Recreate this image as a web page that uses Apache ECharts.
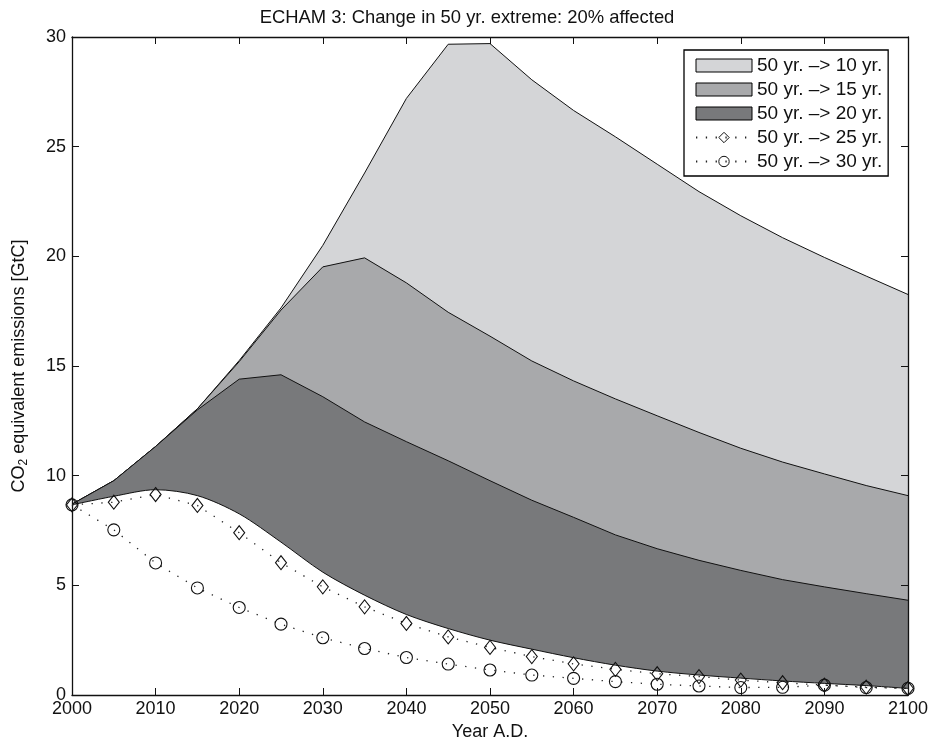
<!DOCTYPE html>
<html>
<head>
<meta charset="utf-8">
<script src="https://cdn.jsdelivr.net/npm/echarts@6/dist/echarts.min.js"></script>
<style>html,body{margin:0;padding:0;background:#fff;}#c{width:934px;height:746px;}</style>
</head>
<body>
<div id="c"></div>
<script>
var years = [2000,2005,2010,2015,2020,2025,2030,2035,2040,2045,2050,2055,2060,2065,2070,2075,2080,2085,2090,2095,2100];
var yr10 = [8.7,9.77,11.33,13.05,15.25,17.65,20.5,23.8,27.2,29.67,29.7,28.05,26.65,25.45,24.2,22.95,21.85,20.85,19.95,19.1,18.26];
var yr15 = [8.7,9.77,11.33,13.05,15.2,17.55,19.52,19.93,18.79,17.45,16.36,15.23,14.32,13.5,12.73,11.97,11.25,10.62,10.08,9.55,9.09];
var yr20 = [8.7,9.77,11.33,13.0,14.4,14.6,13.6,12.45,11.55,10.68,9.77,8.88,8.1,7.3,6.67,6.14,5.68,5.26,4.93,4.62,4.32];
var lowerBound = [8.67,9.06,9.36,9.09,8.26,6.97,5.6,4.55,3.67,3.03,2.5,2.09,1.7,1.36,1.09,0.91,0.77,0.64,0.53,0.43,0.3];
var yr25 = [8.67,8.79,9.14,8.64,7.4,6.03,4.93,4.02,3.26,2.65,2.17,1.75,1.42,1.17,0.97,0.84,0.68,0.56,0.45,0.36,0.3];
var yr30 = [8.67,7.53,6.02,4.88,3.99,3.23,2.61,2.12,1.71,1.41,1.14,0.91,0.76,0.61,0.49,0.41,0.34,0.35,0.45,0.34,0.3];
var names = ['50 yr. \u2013> 10 yr.','50 yr. \u2013> 15 yr.','50 yr. \u2013> 20 yr.','50 yr. \u2013> 25 yr.','50 yr. \u2013> 30 yr.'];
var fills = ['#d4d5d7','#a8a9ab','#78797b'];

function pairs(arr){ return years.map(function(y,i){ return [y, arr[i]]; }); }
var FONT = 'Liberation Sans, Arial, Helvetica, sans-serif';

function areaSeries(name, arr, fill, z){
  return {
    name: name, type: 'line', data: pairs(arr), showSymbol: false, symbol: 'none',
    color: fill,
    lineStyle: {color: '#111', width: 1},
    itemStyle: {color: fill, borderColor: '#000', borderWidth: 1},
    areaStyle: {color: fill, opacity: 1, origin: 'start'},
    z: z, animation: false, silent: true
  };
}

var chart = echarts.init(document.getElementById('c'), null, {renderer: 'canvas'});
var option = {
  backgroundColor: '#fff',
  animation: false,
  title: {
    text: 'ECHAM 3: Change in 50 yr. extreme: 20% affected',
    left: 'center', top: 4,
    textStyle: {fontFamily: FONT, fontSize: 18.4, fontWeight: 'normal', color: '#111'}
  },
  grid: {left: 70, right: 26, top: 37, bottom: 49},
  legend: {
    orient: 'vertical', left: 684, top: 50,
    padding: [6, 6, 5, 11],
    itemWidth: 56, itemHeight: 13, itemGap: 5,
    backgroundColor: '#fff', borderColor: '#000', borderWidth: 1.3,
    textStyle: {fontFamily: FONT, fontSize: 19, color: '#111', lineHeight: 18, padding: [0,0,0,0]},
    data: [
      {name: names[0], icon: 'rect', itemStyle: {color: fills[0], borderColor: '#000', borderWidth: 1}},
      {name: names[1], icon: 'rect', itemStyle: {color: fills[1], borderColor: '#000', borderWidth: 1}},
      {name: names[2], icon: 'rect', itemStyle: {color: fills[2], borderColor: '#000', borderWidth: 1}},
      {name: names[3], itemStyle: {borderWidth: 1}},
      {name: names[4], itemStyle: {borderWidth: 1}}
    ]
  },
  xAxis: [{
    type: 'value', min: 2000, max: 2100, interval: 10, z: 5,
    name: 'Year A.D.', nameLocation: 'middle', nameGap: 28,
    nameTextStyle: {fontFamily: FONT, fontSize: 18, color: '#111'},
    axisLine: {show: true, onZero: false, lineStyle: {color: '#111', width: 1.3}},
    axisTick: {show: true, inside: true, length: 7, lineStyle: {color: '#111', width: 1}},
    axisLabel: {fontFamily: FONT, fontSize: 18, color: '#111', margin: 5, formatter: function(v){ return String(v); }},
    splitLine: {show: false}
  },{
    type: 'value', position: 'top', min: 2000, max: 2100, interval: 10, z: 5,
    axisLine: {show: true, onZero: false, lineStyle: {color: '#111', width: 1.3}},
    axisTick: {show: true, inside: true, length: 7, lineStyle: {color: '#111', width: 1}},
    axisLabel: {show: false}, splitLine: {show: false}
  }],
  yAxis: [{
    type: 'value', min: 0, max: 30, interval: 5, z: 5,
    name: '{a|CO}{b|2}{a| equivalent emissions [GtC]}', nameLocation: 'middle', nameGap: 42,
    nameTextStyle: {
      fontFamily: FONT, fontSize: 18, color: '#111',
      rich: {
        a: {fontFamily: FONT, fontSize: 18, color: '#111', lineHeight: 22},
        b: {fontFamily: FONT, fontSize: 12, color: '#111', lineHeight: 22, padding: [10, 0, 0, 0]}
      }
    },
    axisLine: {show: true, onZero: false, lineStyle: {color: '#111', width: 1.3}},
    axisTick: {show: true, inside: true, length: 7, lineStyle: {color: '#111', width: 1}},
    axisLabel: {fontFamily: FONT, fontSize: 18, color: '#111', margin: 6},
    splitLine: {show: false}
  },{
    type: 'value', position: 'right', min: 0, max: 30, interval: 5, z: 5,
    axisLine: {show: true, onZero: false, lineStyle: {color: '#111', width: 1.3}},
    axisTick: {show: true, inside: true, length: 7, lineStyle: {color: '#111', width: 1}},
    axisLabel: {show: false}, splitLine: {show: false}
  }],
  series: [
    areaSeries(names[0], yr10, fills[0], 1),
    areaSeries(names[1], yr15, fills[1], 2),
    areaSeries(names[2], yr20, fills[2], 3),
    {
      name: 'lower', type: 'line', data: pairs(lowerBound), showSymbol: false, symbol: 'none',
      smooth: 0.3,
      lineStyle: {color: '#111', width: 1},
      areaStyle: {color: '#fff', opacity: 1, origin: 'start'},
      z: 4, silent: true
    },
    {
      name: names[3], type: 'line', data: pairs(yr25),
      symbol: 'diamond', symbolSize: [11, 14], showSymbol: true,
      lineStyle: {color: '#222', width: 1.3, type: [1.3, 8.5]},
      itemStyle: {color: 'rgba(255,255,255,0)', borderColor: '#111', borderWidth: 1.1},
      z: 6, silent: true
    },
    {
      name: names[4], type: 'line', data: pairs(yr30),
      symbol: 'circle', symbolSize: 12, showSymbol: true,
      lineStyle: {color: '#222', width: 1.3, type: [1.3, 8.5]},
      itemStyle: {color: 'rgba(255,255,255,0)', borderColor: '#111', borderWidth: 1.1},
      z: 6, silent: true
    }
  ]
};
chart.setOption(option);
</script>
</body>
</html>
